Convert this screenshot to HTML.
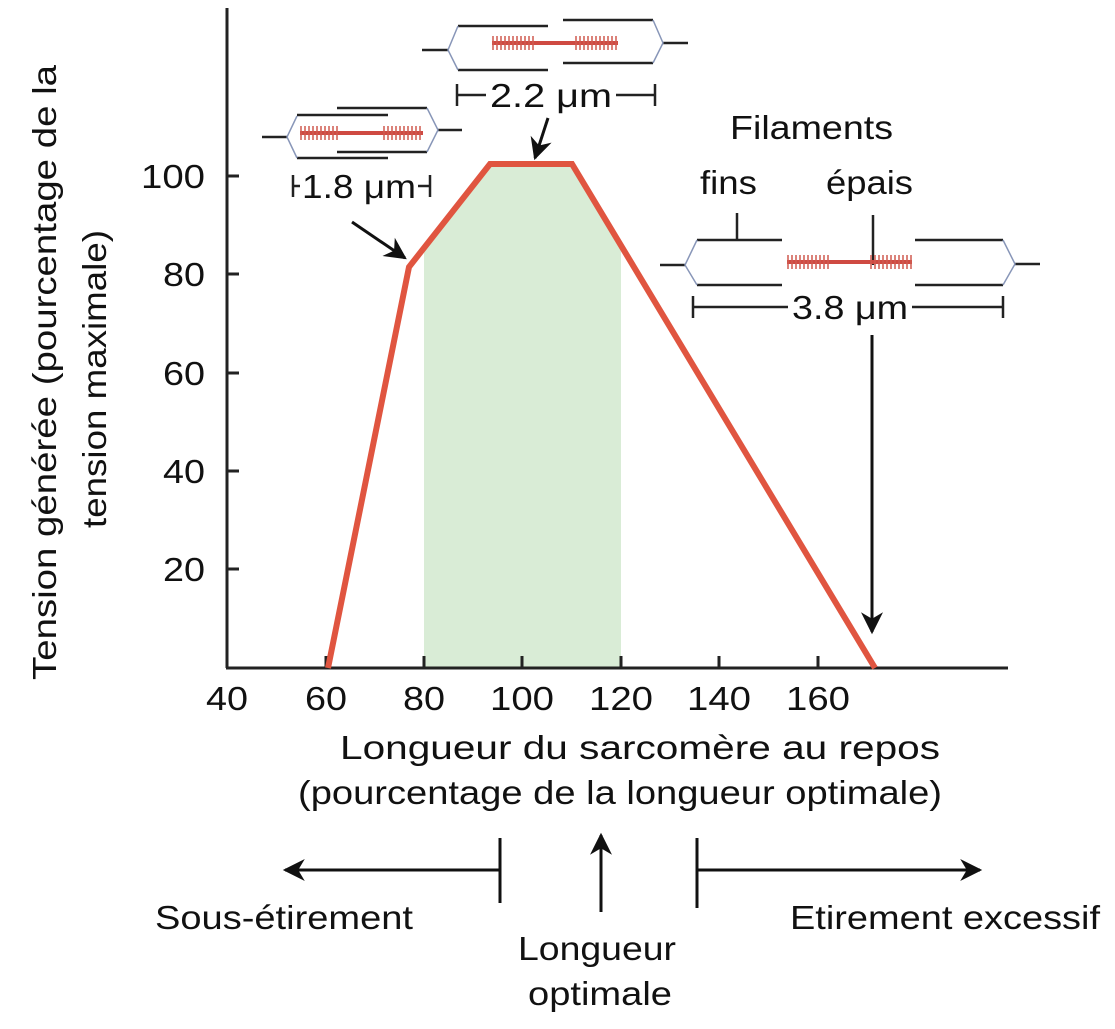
<!DOCTYPE html><html><head><style>body{margin:0;background:#fff}svg text{font-family:"Liberation Sans",sans-serif;fill:#111}</style></head><body>
<svg width="1115" height="1024" viewBox="0 0 1115 1024" xmlns="http://www.w3.org/2000/svg">
<defs>
<marker id="big" viewBox="0 0 10 10" markerWidth="26" markerHeight="22" refX="9" refY="5" orient="auto" markerUnits="userSpaceOnUse"><path d="M0,0 L10,5 L0,10 L3,5 Z" fill="#111"/></marker></defs>
<polygon points="424,668 424,247 490,164 572,164 621,246 621,668" fill="#d9ecd6"/>
<g stroke="#222" stroke-width="3" fill="none">
<line x1="227" y1="8" x2="227" y2="668"/><line x1="226" y1="668" x2="1008" y2="668"/>
<line x1="326" y1="668" x2="326" y2="656"/><line x1="424" y1="668" x2="424" y2="656"/><line x1="522" y1="668" x2="522" y2="656"/><line x1="621" y1="668" x2="621" y2="656"/><line x1="719" y1="668" x2="719" y2="656"/><line x1="818" y1="668" x2="818" y2="656"/>
<line x1="227" y1="176" x2="239" y2="176"/><line x1="227" y1="274" x2="239" y2="274"/><line x1="227" y1="373" x2="239" y2="373"/><line x1="227" y1="471" x2="239" y2="471"/><line x1="227" y1="569" x2="239" y2="569"/>
</g>
<polyline points="328,668 409,267 490,164 572,164 875,668" fill="none" stroke="#e05540" stroke-width="6" stroke-linejoin="miter"/>
<g font-size="33">
<text x="206" y="710" textLength="42" lengthAdjust="spacingAndGlyphs">40</text>
<text x="305" y="710" textLength="42" lengthAdjust="spacingAndGlyphs">60</text>
<text x="403" y="710" textLength="42" lengthAdjust="spacingAndGlyphs">80</text>
<text x="490" y="710" textLength="64" lengthAdjust="spacingAndGlyphs">100</text>
<text x="589" y="710" textLength="64" lengthAdjust="spacingAndGlyphs">120</text>
<text x="687" y="710" textLength="64" lengthAdjust="spacingAndGlyphs">140</text>
<text x="786" y="710" textLength="64" lengthAdjust="spacingAndGlyphs">160</text>
<text x="141" y="188" textLength="64" lengthAdjust="spacingAndGlyphs">100</text>
<text x="163" y="286" textLength="42" lengthAdjust="spacingAndGlyphs">80</text>
<text x="163" y="385" textLength="42" lengthAdjust="spacingAndGlyphs">60</text>
<text x="163" y="483" textLength="42" lengthAdjust="spacingAndGlyphs">40</text>
<text x="163" y="581" textLength="42" lengthAdjust="spacingAndGlyphs">20</text>
<text x="340" y="759" textLength="600" lengthAdjust="spacingAndGlyphs">Longueur du sarcomère au repos</text>
<text x="298" y="804" textLength="644" lengthAdjust="spacingAndGlyphs">(pourcentage de la longueur optimale)</text>
<text transform="translate(56,680) rotate(-90)" textLength="615" lengthAdjust="spacingAndGlyphs">Tension générée (pourcentage de la</text>
<text transform="translate(106,528) rotate(-90)" textLength="298" lengthAdjust="spacingAndGlyphs">tension maximale)</text>
<text x="730" y="139" textLength="163" lengthAdjust="spacingAndGlyphs">Filaments</text>
<text x="700" y="194" textLength="57" lengthAdjust="spacingAndGlyphs">fins</text>
<text x="826" y="194" textLength="87" lengthAdjust="spacingAndGlyphs">épais</text>
<text x="155" y="929" textLength="258" lengthAdjust="spacingAndGlyphs">Sous-étirement</text>
<text x="518" y="960" textLength="158" lengthAdjust="spacingAndGlyphs">Longueur</text>
<text x="528" y="1005" textLength="144" lengthAdjust="spacingAndGlyphs">optimale</text>
<text x="790" y="929" textLength="310" lengthAdjust="spacingAndGlyphs">Etirement excessif</text>
<text x="490" y="107" textLength="122" lengthAdjust="spacingAndGlyphs">2.2 μm</text>
<text x="302" y="198" textLength="114" lengthAdjust="spacingAndGlyphs">1.8 μm</text>
<text x="792" y="319" textLength="116" lengthAdjust="spacingAndGlyphs">3.8 μm</text>
</g>
<g stroke="#222" stroke-width="2.5" fill="none">
<path d="M457,84V106M457,95H486M616,95H655M655,84V106"/>
<path d="M293,175V197M293,186H300M418,186H430M430,175V197"/>
<path d="M693,296V318M693,307H788M912,307H1003M1003,296V318"/>
<path d="M422,50H448M663,43H688M458,26H548M458,70H548M563,20H653M563,63H653"/>
<path d="M262,137H287M438,130H462M297,115H388M297,158H388M337,108H427M337,152H427"/>
<path d="M660,265H685M1015,264H1040M697,240H782M697,285H782M915,240H1003M915,285H1003"/>
<path d="M737,213V240M873,215V265"/>
</g>
<g stroke="#8896b8" stroke-width="1.5" fill="none">
<path d="M458,26L448,50L458,70M653,20L663,43L653,63"/>
<path d="M297,116L287,137L297,158M427,108L438,130L427,152"/>
<path d="M697,240L685,265L697,285M1003,240L1015,264L1003,285"/>
</g>
<g stroke="#cf4a42" stroke-width="4">
<line x1="492" y1="43" x2="618" y2="43"/><line x1="300" y1="133" x2="423" y2="133"/><line x1="787" y1="262" x2="912" y2="262"/>
</g>
<g stroke="#d05a50" stroke-width="14" stroke-dasharray="2 2" opacity="0.75">
<line x1="492" y1="43" x2="535" y2="43"/><line x1="575" y1="43" x2="618" y2="43"/>
<line x1="300" y1="133" x2="340" y2="133"/><line x1="383" y1="133" x2="423" y2="133"/>
<line x1="787" y1="262" x2="830" y2="262"/><line x1="870" y1="262" x2="912" y2="262"/>
</g>
<g stroke="#111" stroke-width="3" fill="none">
<line x1="352" y1="222" x2="405" y2="258" marker-end="url(#big)"/>
<line x1="548" y1="118" x2="535" y2="158" marker-end="url(#big)"/>
<line x1="872" y1="335" x2="872" y2="632" marker-end="url(#big)"/>
<line x1="500" y1="870" x2="285" y2="870" marker-end="url(#big)"/>
<line x1="500" y1="838" x2="500" y2="903"/>
<line x1="697" y1="838" x2="697" y2="908"/>
<line x1="697" y1="870" x2="980" y2="870" marker-end="url(#big)"/>
<line x1="601" y1="912" x2="601" y2="835" marker-end="url(#big)"/>
</g>
</svg></body></html>
